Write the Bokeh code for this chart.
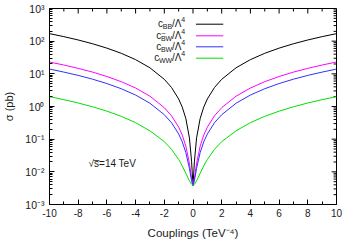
import math
from bokeh.plotting import figure
from bokeh.models import Label, FixedTicker, Range1d, CustomJSTickFormatter
from bokeh.embed import file_html
from bokeh.resources import INLINE

# ---- data ----
couplings = [-10, -9, -8, -7, -6, -5, -4, -3, -2, -1.5, -1, -0.75, -0.5, -0.25, -0.1, 0,
             0.1, 0.25, 0.5, 0.75, 1, 1.5, 2, 3, 4, 5, 6, 7, 8, 9, 10]
sigma_BB = [170, 137.7, 108.8, 83.3, 61.2, 42.5, 27.2, 15.3, 6.8, 3.83, 1.70, 0.96, 0.43, 0.11, 0.021, 0.0038,
            0.021, 0.11, 0.43, 0.96, 1.70, 3.83, 6.8, 15.3, 27.2, 42.5, 61.2, 83.3, 108.8, 137.7, 170]
sigma_BtW = [23, 18.6, 14.7, 11.3, 8.28, 5.75, 3.68, 2.07, 0.92, 0.52, 0.234, 0.133, 0.0615, 0.0184, 0.0063, 0.0038,
             0.0063, 0.0184, 0.0615, 0.133, 0.234, 0.52, 0.92, 2.07, 3.68, 5.75, 8.28, 11.3, 14.7, 18.6, 23]
sigma_BW = [14, 11.3, 8.96, 6.86, 5.04, 3.5, 2.24, 1.26, 0.56, 0.32, 0.144, 0.083, 0.039, 0.0128, 0.0054, 0.0038,
            0.0054, 0.0128, 0.039, 0.083, 0.144, 0.32, 0.56, 1.26, 2.24, 3.5, 5.04, 6.86, 8.96, 11.3, 14]
sigma_WW = [2.0, 1.62, 1.28, 0.98, 0.72, 0.50, 0.32, 0.18, 0.084, 0.049, 0.024, 0.0153, 0.009, 0.0053, 0.0042, 0.0038,
            0.0042, 0.0053, 0.009, 0.0153, 0.024, 0.049, 0.084, 0.18, 0.32, 0.50, 0.72, 0.98, 1.28, 1.62, 2.0]

series_keys = ["BB", "BtW", "BW", "WW"]
series_sub = ["BB", "BW", "BW", "WW"]
series_tilde = [False, True, False, False]
series_colors = ["#000000", "#ff00ff", "#3030ff", "#00e000"]

x_ticks = [-10, -8, -6, -4, -2, 0, 2, 4, 6, 8, 10]
x_minor = [-9, -7, -5, -3, -1, 1, 3, 5, 7, 9]
y_exponents = [-3, -2, -1, 0, 1, 2, 3]

FONT = "Liberation Sans"
TXT = "#1a1a1a"

W, H = 350, 245
# frame geometry in picture pixels
FX0, FX1, FY0, FY1 = 42, 336, 8, 204
XMIN, XMAX, LYMIN, LYMAX = -10, 10, -3, 3

def px(xp):
    return XMIN + (xp - FX0) * (XMAX - XMIN) / (FX1 - FX0)

def py(yp):
    return 10 ** (LYMAX - (yp - FY0) * (LYMAX - LYMIN) / (FY1 - FY0))

p = figure(width=W, height=H, output_backend="svg", toolbar_location=None,
           y_axis_type="log", x_range=Range1d(XMIN, XMAX),
           y_range=Range1d(10 ** LYMIN, 10 ** LYMAX),
           min_border_left=FX0, min_border_right=W - FX1,
           min_border_top=FY0, min_border_bottom=H - FY1)
p.xgrid.visible = False
p.ygrid.visible = False
p.outline_line_color = "#000000"
p.background_fill_color = "white"
p.border_fill_color = "white"

yt = [10.0 ** e for e in y_exponents]
ym = [m * 10.0 ** e for e in y_exponents[:-1] for m in range(2, 10)]

for ax in (p.xaxis[0], p.yaxis[0]):
    ax.major_tick_in = 5
    ax.major_tick_out = 0
    ax.minor_tick_in = 3
    ax.minor_tick_out = 0
    ax.axis_line_color = "#000000"
    ax.major_tick_line_color = "#000000"
    ax.minor_tick_line_color = "#000000"
    ax.major_label_text_font = FONT
    ax.major_label_text_font_size = "10px"
    ax.major_label_text_color = TXT
    ax.axis_label_text_font = FONT
    ax.axis_label_text_font_style = "normal"
    ax.axis_label_text_color = TXT

p.xaxis.ticker = FixedTicker(ticks=x_ticks, minor_ticks=x_minor)
p.xaxis.formatter = CustomJSTickFormatter(code="return String(tick);")
p.xaxis.major_label_standoff = 4
p.xaxis.axis_label = "Couplings (TeV\u207b\u2074)"
p.xaxis.axis_label_text_font_size = "11.5px"
p.xaxis.axis_label_standoff = 7

p.yaxis.ticker = FixedTicker(ticks=yt, minor_ticks=ym)
p.yaxis.major_label_standoff = 5
p.yaxis.major_label_text_font_size = "10.5px"
p.yaxis.formatter = CustomJSTickFormatter(code="""
const sup = {'-':'\u207b','0':'\u2070','1':'\u00b9','2':'\u00b2','3':'\u00b3'};
const e = String(Math.round(Math.log10(tick)));
return '10' + e.split('').map(c => sup[c]).join('');
""")
p.yaxis.axis_label = "\u03c3 (pb)"
p.yaxis.axis_label_text_font_size = "11px"
p.yaxis.axis_label_standoff = 7

# mirrored ticks on top and right edges
for ln, ticks in {5: x_ticks, 3: x_minor}.items():
    p.segment(x0=ticks, y0=[10 ** LYMAX] * len(ticks), x1=ticks, y1=[py(FY0 + ln)] * len(ticks),
              line_color="#000000", line_width=1)
for ln, ticks in {5: yt, 3: ym}.items():
    p.segment(x0=[XMAX] * len(ticks), y0=ticks, x1=[px(FX1 - ln)] * len(ticks), y1=ticks,
              line_color="#000000", line_width=1)

data = {"BB": sigma_BB, "BtW": sigma_BtW, "BW": sigma_BW, "WW": sigma_WW}
for k, c in zip(series_keys, series_colors):
    p.line(couplings, data[k], line_color=c, line_width=1)

def lab(x, y, text, size, align="left", baseline="middle"):
    p.add_layout(Label(x=x, y=y, text=text, text_font=FONT, text_font_size=size,
                       text_color=TXT, text_align=align, text_baseline=baseline))

# sqrt(s) annotation
lab(px(82), py(163), "\u221as\u0305=14 TeV", "10px", align="left")

# legend (pieces laid out right to left, text ending at x=181)
MAIN, SMALL = 10.0, 7.0
def wid(s, size):
    em = {"c": 0.5, "B": 0.667, "W": 0.944, "/": 0.278, "\u039b": 0.667, "4": 0.556}
    return sum(em[ch] for ch in s) * size

rows = [23.7, 35.3, 46.3, 57.7]
for sub, tilde, c, ry in zip(series_sub, series_tilde, series_colors, rows):
    xr = 181.0
    lab(px(xr), py(ry - 4.5), "4", f"{SMALL}px", align="right")
    xr -= wid("4", SMALL)
    lab(px(xr), py(ry - 0.5), "/\u039b", f"{MAIN}px", align="right")
    xr -= wid("/\u039b", MAIN)
    lab(px(xr), py(ry + 2.5), sub, f"{SMALL}px", align="right")
    if tilde:
        xb = xr - wid(sub, SMALL) + wid("B", SMALL) / 2
        lab(px(xb), py(ry - 2.5), "~", f"{SMALL}px", align="center")
    xr -= wid(sub, SMALL)
    lab(px(xr), py(ry - 0.5), "c", f"{MAIN}px", align="right")
    p.line(x=[px(192), px(220)], y=[py(ry), py(ry)], line_color=c, line_width=1)

open("out.html", "w").write(file_html(p, INLINE))
